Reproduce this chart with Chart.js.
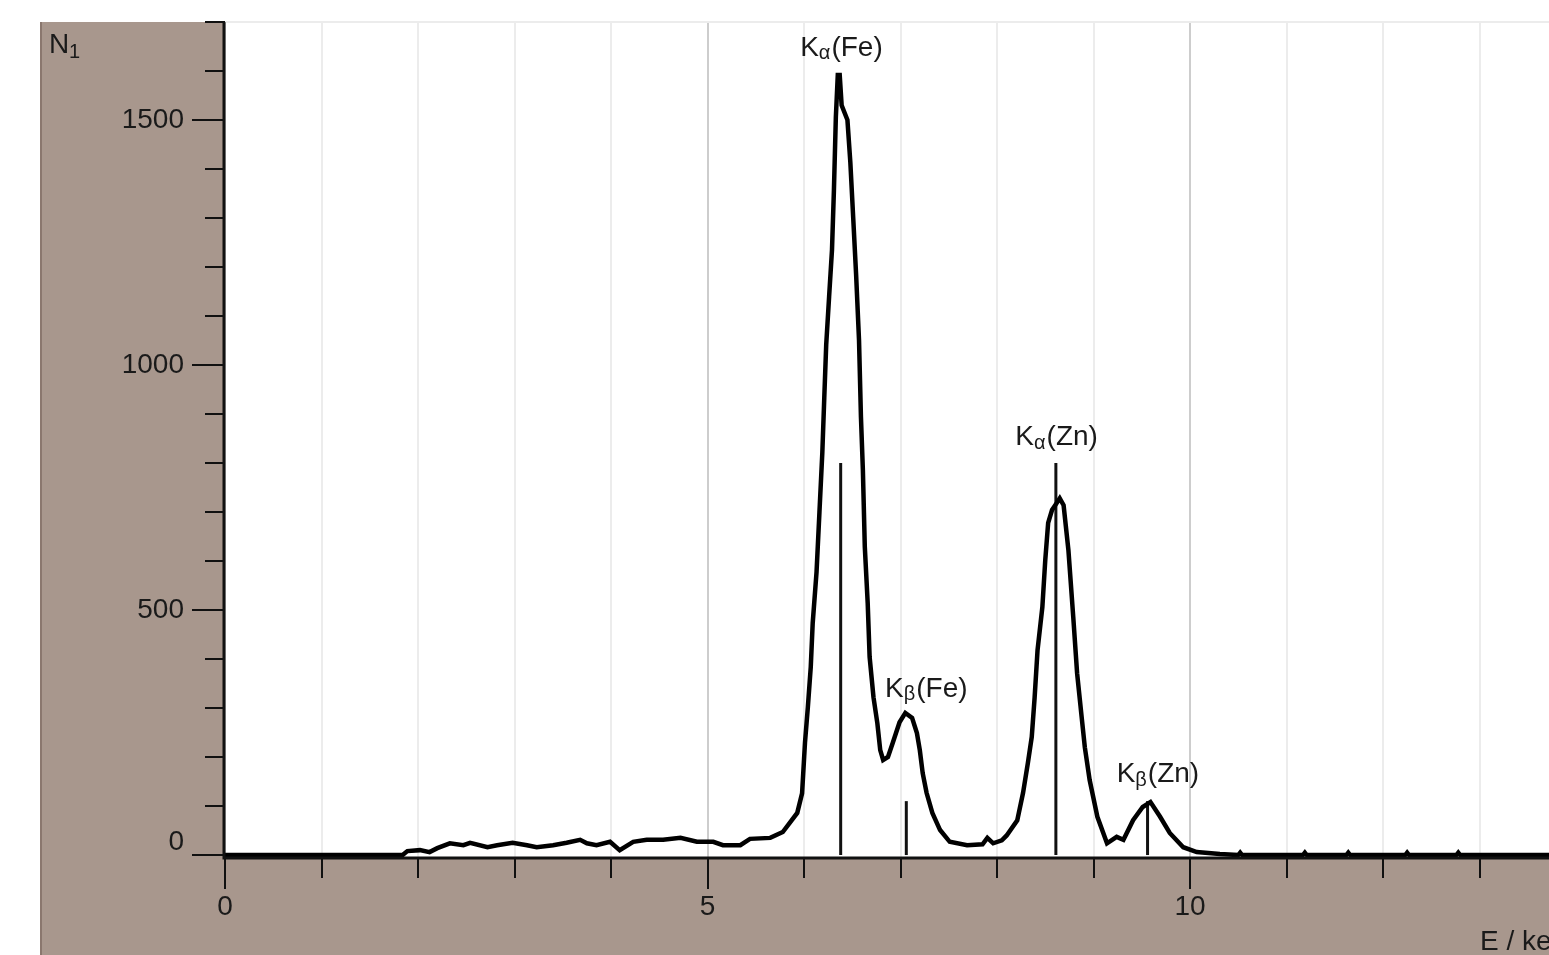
<!DOCTYPE html>
<html>
<head>
<meta charset="utf-8">
<script src="https://cdn.jsdelivr.net/npm/chart.js@4.4.1/dist/chart.umd.min.js"></script>
<style>
html, body { margin: 0; padding: 0; background: #fff; overflow: hidden; }
</style>
</head>
<body>
<canvas id="spec" width="1549" height="955"></canvas>
<script>
// spectrum (E in keV, N1 counts)
const energy = [0, 1.84, 1.89, 2.02, 2.12, 2.20, 2.33, 2.47, 2.54, 2.72, 2.82, 2.98, 3.13, 3.23, 3.40, 3.54, 3.68, 3.75, 3.85, 3.99,
  4.09, 4.23, 4.37, 4.54, 4.72, 4.89, 5.06, 5.16, 5.34, 5.44, 5.65, 5.78, 5.85, 5.93, 5.98, 6.01, 6.04, 6.07, 6.09, 6.13,
  6.16, 6.19, 6.21, 6.23, 6.26, 6.29, 6.31, 6.33, 6.35, 6.37, 6.39, 6.45, 6.48, 6.51, 6.54, 6.57, 6.59, 6.61, 6.63, 6.66,
  6.68, 6.72, 6.76, 6.79, 6.82, 6.87, 6.92, 6.99, 7.05, 7.12, 7.17, 7.20, 7.23, 7.27, 7.33, 7.41, 7.51, 7.69, 7.85, 7.90,
  7.96, 8.05, 8.10, 8.21, 8.27, 8.32, 8.36, 8.39, 8.42, 8.47, 8.50, 8.53, 8.57, 8.61, 8.65, 8.69, 8.74, 8.79, 8.83, 8.88,
  8.91, 8.96, 9.04, 9.14, 9.24, 9.31, 9.41, 9.51, 9.59, 9.69, 9.79, 9.93, 10.07, 10.31, 10.50, 10.52, 10.54, 11.17, 11.19, 11.21,
  11.62, 11.64, 11.66, 12.23, 12.25, 12.27, 12.76, 12.78, 12.80, 13.72];
const counts = [0, 0, 8, 10, 6, 14, 24, 20, 25, 16, 20, 25, 20, 16, 20, 25, 31, 24, 20, 27,
  10, 27, 31, 31, 35, 27, 27, 20, 20, 33, 35, 47, 65, 86, 126, 229, 302, 384, 473, 578,
  700, 822, 933, 1041, 1139, 1235, 1357, 1506, 1592, 1592, 1530, 1500, 1414, 1300, 1184, 1051, 894, 786, 629, 514,
  404, 322, 269, 214, 194, 200, 229, 271, 290, 280, 249, 214, 167, 127, 86, 51, 27, 20, 22, 35,
  24, 30, 40, 71, 127, 188, 241, 322, 418, 506, 602, 678, 704, 716, 728, 714, 622, 486, 371, 276,
  220, 153, 78, 24, 37, 31, 71, 98, 108, 78, 45, 16, 6, 2, 0, 5, 0, 0, 5, 0,
  0, 5, 0, 0, 5, 0, 0, 5, 0, 0];

// reference lines of the elements
const lineEnergy = [6.38, 7.06, 8.61, 9.56];
const lineHeight = [800, 110, 800, 110];
const lineSub = ['α', 'β', 'α', 'β'];
const lineElement = ['(Fe)', '(Fe)', '(Zn)', '(Zn)'];
const labelEnergy = [5.96, 6.84, 8.19, 9.24];
const labelCount = [1647, 339, 853, 165];

const xTickLabels = [0, 5, 10];
const yTickLabels = [0, 500, 1000, 1500];

const FONT = '"Liberation Sans", Arial, sans-serif';
const PANEL = '#a8978d';

const datasets = [{
  data: energy.map((e, i) => ({ x: e, y: counts[i] })),
  showLine: true,
  borderColor: '#000',
  borderWidth: 4.5,
  borderJoinStyle: 'miter',
  pointRadius: 0,
  order: 0
}];
lineEnergy.forEach((e, i) => {
  datasets.push({
    data: [{ x: e, y: 0 }, { x: e, y: lineHeight[i] }],
    showLine: true,
    borderColor: '#111',
    borderWidth: 3,
    pointRadius: 0,
    order: 1
  });
});

const framePlugin = {
  id: 'frame',
  beforeDraw(chart) {
    const c = chart.ctx;
    const a = chart.chartArea;
    c.save();
    c.fillStyle = '#fff';
    c.fillRect(0, 0, chart.width, chart.height);
    c.fillStyle = PANEL;
    c.fillRect(40, a.top, a.left - 40, chart.height - a.top);
    c.fillRect(40, a.bottom, chart.width - 40, chart.height - a.bottom);
    c.fillStyle = '#8a776e';
    c.fillRect(40, a.top, 2, chart.height - a.top);
    c.restore();
  },
  afterDraw(chart) {
    const c = chart.ctx;
    const a = chart.chartArea;
    const xs = chart.scales.x, ys = chart.scales.y;
    c.save();
    c.strokeStyle = '#111';
    c.fillStyle = '#1a1a1a';
    // axis lines
    c.lineWidth = 3;
    c.beginPath();
    c.moveTo(a.left - 1, a.top);
    c.lineTo(a.left - 1, a.bottom + 1);
    c.lineTo(chart.width, a.bottom + 1);
    c.stroke();
    // tick marks
    c.lineWidth = 2;
    for (let v = 0; v <= 1700; v += 100) {
      const y = Math.round(ys.getPixelForValue(v));
      c.beginPath();
      c.moveTo(v % 500 === 0 ? a.left - 33 : a.left - 20, y);
      c.lineTo(a.left, y);
      c.stroke();
    }
    for (let k = 0; k <= 13; k++) {
      const x = Math.round(xs.getPixelForValue(k));
      c.beginPath();
      c.moveTo(x, a.bottom);
      c.lineTo(x, a.bottom + (k % 5 === 0 ? 32 : 21));
      c.stroke();
    }
    // tick labels
    c.font = '28px ' + FONT;
    c.textBaseline = 'middle';
    c.textAlign = 'right';
    yTickLabels.forEach(v => {
      const y = ys.getPixelForValue(v) + (v === 0 ? -13 : 0);
      c.fillText(String(v), a.left - 41, y);
    });
    c.textAlign = 'center';
    xTickLabels.forEach(k => {
      c.fillText(String(k), xs.getPixelForValue(k), a.bottom + 50);
    });
    // axis titles
    c.textAlign = 'left';
    c.fillText('E / keV', 1480, a.bottom + 85);
    c.fillText('N', 49, 45);
    c.font = '20px ' + FONT;
    c.fillText('1', 69, 52);
    // peak names
    lineEnergy.forEach((e, i) => {
      const x = xs.getPixelForValue(labelEnergy[i]);
      const y = ys.getPixelForValue(labelCount[i]);
      c.font = '28px ' + FONT;
      c.fillText('K', x, y);
      let w = c.measureText('K').width;
      c.font = '20px ' + FONT;
      c.fillText(lineSub[i], x + w, y + 6);
      w += c.measureText(lineSub[i]).width + 1;
      c.font = '28px ' + FONT;
      c.fillText(lineElement[i], x + w, y);
    });
    c.restore();
  }
};

const ctx = document.getElementById('spec').getContext('2d');
const spectrum = new Chart(ctx, {
  type: 'scatter',
  plugins: [framePlugin],
  data: { datasets: datasets },
  options: {
    responsive: false,
    animation: false,
    layout: { padding: { left: 225, right: 0, top: 22, bottom: 98 } },
    plugins: { legend: { display: false }, tooltip: { enabled: false } },
    scales: {
      x: {
        type: 'linear',
        min: 0,
        max: 13.72,
        ticks: { display: false, stepSize: 1 },
        grid: {
          drawTicks: false,
          lineWidth: 2,
          color: c => (c.tick.value % 5 === 0 ? '#cdcdcd' : '#ececec')
        },
        border: { display: false },
        afterBuildTicks: s => { s.ticks = s.ticks.filter(t => Number.isInteger(t.value)); }
      },
      y: {
        min: -4,
        max: 1700,
        ticks: { display: false, stepSize: 100 },
        grid: {
          drawTicks: false,
          lineWidth: 2,
          color: c => (c.tick.value % 500 === 0 ? '#cdcdcd' : '#ececec')
        },
        border: { display: false },
        afterBuildTicks: s => { s.ticks = s.ticks.filter(t => t.value >= 0 && t.value % 100 === 0); }
      }
    }
  }
});
</script>
</body>
</html>
